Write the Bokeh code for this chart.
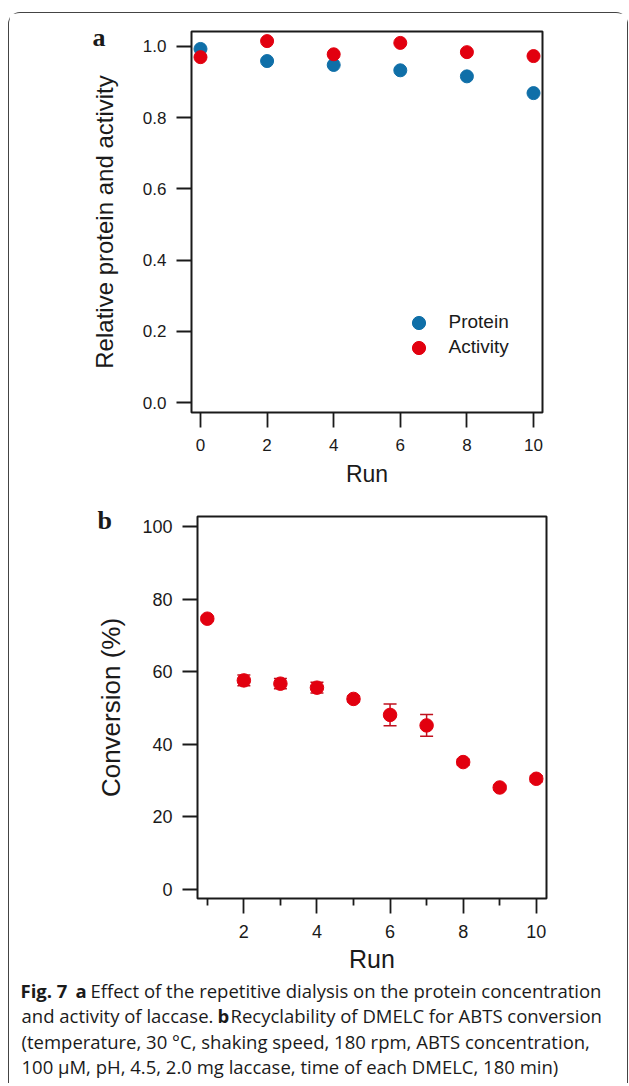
from bokeh.plotting import figure
from bokeh.models import (Range1d, FixedTicker, PrintfTickFormatter, Title, Whisker,
                          TeeHead, ColumnDataSource, Legend, LegendItem)
from bokeh.layouts import column
from bokeh.embed import file_html
from bokeh.resources import INLINE
from bokeh.core.properties import value

# ---------------- data ----------------
runs_a = [0, 2, 4, 6, 8, 10]
protein = [0.993, 0.959, 0.948, 0.933, 0.916, 0.869]
activity = [0.970, 1.015, 0.978, 1.010, 0.984, 0.973]

runs_b = [1, 2, 3, 4, 5, 6, 7, 8, 9, 10]
conversion = [74.6, 57.6, 56.7, 55.6, 52.5, 48.1, 45.2, 35.1, 28.1, 30.5]
conversion_err = [0.6, 1.5, 1.4, 1.5, 0.8, 3.0, 3.0, 0.8, 0.6, 0.8]

ticks_a_x = [0, 2, 4, 6, 8, 10]
ticks_a_y = [0.0, 0.2, 0.4, 0.6, 0.8, 1.0]
ticks_b_x = [2, 4, 6, 8, 10]
ticks_b_x_minor = [1, 3, 5, 7, 9]
ticks_b_y = [0, 20, 40, 60, 80, 100]

label_a_y = "Relative protein and activity"
label_b_y = "Conversion (%)"
label_x = "Run"
series_names = ["Protein", "Activity"]
panel_letters = ["a", "b"]

caption_bold = ["Fig. 7", "a", "b"]
caption_regular = [
    "Effect of the repetitive dialysis on the protein concentration",
    "and activity of laccase.",
    "Recyclability of DMELC for ABTS conversion",
    "(temperature, 30 \u00b0C, shaking speed, 180 rpm, ABTS concentration,",
    "100 \u00b5M, pH, 4.5, 2.0 mg laccase, time of each DMELC, 180 min)",
]

BLUE = "#0f6fa8"
RED = "#e2000f"
INK = "#1a1a1a"
SANS = "Liberation Sans"
W = 618


def style(p, tick_size, label_size, ylab_standoff, xtick_standoff, xlab_standoff):
    p.frame_align = False
    p.outline_line_color = INK
    p.outline_line_width = 2
    p.grid.visible = False
    for ax in p.axis:
        ax.axis_line_color = None
        ax.major_tick_line_color = INK
        ax.major_tick_line_width = 1.8
        ax.major_tick_in = 0
        ax.major_tick_out = 15
        ax.minor_tick_line_color = INK
        ax.minor_tick_line_width = 1.8
        ax.minor_tick_in = 0
        ax.minor_tick_out = 7
        ax.major_label_text_font = SANS
        ax.major_label_text_font_size = tick_size
        ax.major_label_text_color = INK
        ax.axis_label_text_font = SANS
        ax.axis_label_text_font_style = "normal"
        ax.axis_label_text_font_size = label_size
        ax.axis_label_text_color = INK
    p.yaxis.major_label_standoff = 10
    p.xaxis.major_label_standoff = xtick_standoff
    p.yaxis.axis_label_standoff = ylab_standoff
    p.xaxis.axis_label_standoff = xlab_standoff


def letter(text, offset, standoff):
    return Title(text=text, align="left", offset=offset, standoff=standoff,
                 text_font="Liberation Serif", text_font_style="bold",
                 text_font_size="26px", text_color=INK)


# ---------------- panel a ----------------
pa = figure(width=W, height=487, output_backend="svg", toolbar_location=None,
            x_range=Range1d(-0.27, 10.27), y_range=Range1d(-0.028, 1.042),
            min_border_left=182, min_border_right=W - 533, min_border_top=18,
            min_border_bottom=88)
r_prot = pa.scatter(runs_a, protein, size=13, color=BLUE)
r_act = pa.scatter(runs_a, activity, size=13, color=RED)
pa.xaxis.ticker = FixedTicker(ticks=ticks_a_x, minor_ticks=[])
pa.yaxis.ticker = FixedTicker(ticks=ticks_a_y, minor_ticks=[])
pa.yaxis.formatter = PrintfTickFormatter(format="%.1f")
pa.xaxis.axis_label = label_x
pa.yaxis.axis_label = label_a_y
style(pa, "17px", "23px", 22, 11, 7)
pa.yaxis.axis_label_text_font_size = "24px"
pa.title = letter(panel_letters[0], -99, -40)

for rend, name, (lx, ly) in [(r_prot, series_names[0], (210.5, 73.5)),
                             (r_act, series_names[1], (210.5, 48.5))]:
    lg = Legend(items=[LegendItem(label=name, renderers=[rend])], location=(lx, ly),
                margin=0, padding=0, border_line_color=None, background_fill_alpha=0,
                label_text_font=SANS, label_text_font_size="19px",
                label_text_color=INK, glyph_width=33, glyph_height=33,
                label_standoff=14)
    pa.add_layout(lg, "center")

# ---------------- panel b ----------------
HB = 476
pb = figure(width=W, height=HB, output_backend="svg", toolbar_location=None,
            x_range=Range1d(0.732, 10.28), y_range=Range1d(-2.48, 102.75),
            min_border_left=188, min_border_right=W - 537, min_border_top=16,
            min_border_bottom=HB - 398)
src = ColumnDataSource(dict(x=runs_b, y=conversion,
                            lo=[v - e for v, e in zip(conversion, conversion_err)],
                            hi=[v + e for v, e in zip(conversion, conversion_err)]))
wh = Whisker(source=src, base="x", lower="lo", upper="hi",
             line_color="#c0101e", line_width=1.5,
             upper_head=TeeHead(size=13, line_color="#c0101e", line_width=1.5),
             lower_head=TeeHead(size=13, line_color="#c0101e", line_width=1.5))
wh.level = "underlay"
pb.add_layout(wh)
pb.scatter("x", "y", source=src, size=13.5, color=RED)
pb.xaxis.ticker = FixedTicker(ticks=ticks_b_x, minor_ticks=ticks_b_x_minor)
pb.yaxis.ticker = FixedTicker(ticks=ticks_b_y, minor_ticks=[])
pb.xaxis.axis_label = label_x
pb.yaxis.axis_label = label_b_y
style(pb, "18px", "26px", 13, 11, 4)
pb.xaxis.axis_label_text_font_size = "25px"
pb.title = letter(panel_letters[1], -100, -37)

# ---------------- caption ----------------
CH = 107
pc = figure(width=W, height=CH, output_backend="svg", toolbar_location=None,
            x_range=Range1d(0, W), y_range=Range1d(CH, 0),
            x_axis_location=None, y_axis_location=None, min_border=0)
pc.frame_align = False
pc.outline_line_color = None
pc.grid.visible = False
base = [13.5, 39, 64.5, 90]
bold_src = ColumnDataSource(dict(x=[11, 66, 208], y=[base[0], base[0], base[1]],
                                 t=caption_bold))
reg_src = ColumnDataSource(dict(x=[81, 12, 221, 12, 12],
                                y=[base[0], base[1], base[1], base[2], base[3]],
                                t=caption_regular))
pc.text("x", "y", text="t", source=bold_src, text_font=value("Open Sans"),
        text_font_style="bold", text_font_size="18.5px", text_color=INK,
        text_baseline="alphabetic")
pc.text("x", "y", text="t", source=reg_src, text_font=value("Open Sans"),
        text_font_size="18.5px", text_color=INK, text_baseline="alphabetic")

lay = column(pa, pb, pc, margin=(12, 0, 0, 8),
             styles={"border-top": "1px solid #444", "border-left": "1px solid #444",
                     "border-right": "1px solid #444",
                     "border-top-left-radius": "12px",
                     "border-top-right-radius": "12px"})

open("out.html", "w").write(file_html(lay, INLINE))
